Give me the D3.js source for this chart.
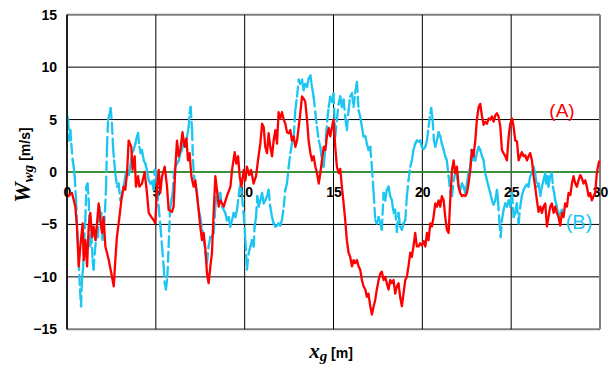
<!DOCTYPE html>
<html>
<head>
<meta charset="utf-8">
<script src="https://cdn.jsdelivr.net/npm/d3@7"></script>
<style>
  body { margin: 0; background: #fff; }
</style>
</head>
<body>
<div id="container"></div>
<script>

// Chart values
const xTicks = [0, 5, 10, 15, 20, 25, 30];
const yTicks = [-15, -10, -5, 0, 5, 10, 15];

// (A) red trace
const seriesA = [
  [0,-2.4],[0.28,-2.0],[0.47,-3.3],[0.56,-5.2],[0.66,-9.0],[0.75,-7.1],[0.88,-4.9],[0.94,-8.4],
  [1.03,-6.5],[1.13,-9.0],[1.22,-5.2],[1.31,-3.9],[1.41,-6.2],[1.5,-5.2],[1.6,-6.5],[1.69,-4.9],
  [1.78,-3.0],[1.88,-4.6],[1.97,-5.8],[2.06,-4.3],[2.16,-7.1],[2.25,-7.7],[2.35,-8.4],[2.5,-9.7],
  [2.63,-10.9],[2.72,-8.4],[2.81,-6.2],[2.95,-4.3],[3.06,-2.7],[3.19,-1.4],[3.28,-1.7],[3.38,-0.1],
  [3.47,3.0],[3.62,2.4],[3.69,0.2],[3.81,1.5],[3.88,-1.4],[4.0,-0.4],[4.07,-1.4],[4.22,-1.1],
  [4.37,0],[4.5,-2.0],[4.6,-3.9],[4.75,-4.3],[4.88,-4.6],[4.97,-4.9],
  [5.07,-1.4],[5.16,0.2],[5.25,-2.0],[5.35,-0.4],[5.5,0.5],[5.63,-1.4],[5.72,-3.6],[5.91,-3.8],
  [6.0,-3.3],[6.1,0.5],[6.19,3.0],[6.29,1.5],[6.38,2.1],[6.5,3.8],[6.62,2.4],[6.72,3.2],
  [6.81,1.1],[6.9,1.8],[7.0,-0.4],[7.13,-1.4],[7.22,-0.8],[7.32,-2.3],[7.41,-3.6],[7.5,-5.2],
  [7.6,-6.5],[7.69,-5.8],[7.79,-7.4],[7.88,-9.7],[7.97,-10.6],[8.07,-9.0],[8.16,-7.7],[8.26,-3.6],
  [8.35,-0.4],[8.44,-1.7],[8.54,-3.3],[8.63,-2.7],[8.82,-3.3],[9.0,-2.3],[9.2,-1.4],[9.29,0.2],
  [9.44,1.9],[9.53,0.8],[9.63,1.5],[9.72,-0.4],[9.82,-1.4],[9.95,0.2],
  [10.04,-0.8],[10.13,0.5],[10.26,-0.3],[10.36,0.2],[10.5,-1.1],[10.64,-0.4],[10.75,1.1],[10.88,2.7],
  [10.98,4.6],[11.07,4.3],[11.16,2.4],[11.26,1.8],[11.35,3.7],[11.44,2.4],[11.54,1.5],[11.63,3.0],
  [11.73,4.0],[11.82,2.7],[11.91,5.7],[12.0,5.1],[12.1,5.7],[12.2,5.0],[12.29,4.6],[12.38,3.8],
  [12.48,3.7],[12.57,4.0],[12.66,3.0],[12.76,3.4],[12.85,2.4],[12.95,3.0],[13.04,4.3],[13.13,5.6],
  [13.23,7.2],[13.32,7.0],[13.41,6.7],[13.51,5.0],[13.6,3.0],[13.7,1.8],[13.79,1.1],[13.88,1.5],
  [13.98,0.5],[14.07,-0.1],[14.17,-1.1],[14.26,-0.1],[14.35,1.1],[14.45,2.4],[14.54,2.1],[14.63,3.4],
  [14.73,4.2],[14.82,3.4],[14.92,4.3],[15.0,5.0],
  [15.1,2.4],[15.19,0.5],[15.29,-0.1],[15.38,0.3],[15.47,-1.4],[15.57,-3.0],[15.66,-4.6],[15.75,-6.5],
  [15.85,-7.7],[15.94,-8.1],[16.04,-9.0],[16.13,-8.4],[16.22,-8.7],[16.32,-8.4],[16.41,-9.0],[16.5,-9.3],
  [16.6,-10.3],[16.69,-10.9],[16.79,-11.2],[16.88,-11.9],[16.97,-11.6],[17.07,-12.8],[17.16,-13.6],[17.26,-12.8],
  [17.35,-12.2],[17.44,-11.2],[17.54,-10.3],[17.63,-9.7],[17.72,-9.5],[17.82,-10.3],[17.91,-10.0],[18.0,-10.6],
  [18.1,-11.2],[18.19,-10.3],[18.29,-10.6],[18.38,-10.3],[18.47,-11.6],[18.57,-10.9],[18.66,-10.6],[18.75,-11.9],
  [18.85,-12.8],[18.94,-11.6],[19.04,-10.3],[19.13,-10.0],[19.22,-9.0],[19.32,-7.7],[19.41,-8.1],[19.5,-7.1],
  [19.6,-5.8],[19.69,-7.1],[19.79,-7.1],[19.88,-6.8],[19.97,-7.0],
  [20.08,-6.6],[20.17,-7.1],[20.26,-5.8],[20.35,-6.5],[20.45,-4.9],[20.54,-5.2],[20.63,-4.3],[20.73,-3.0],
  [20.82,-3.3],[20.92,-2.7],[21.01,-3.3],[21.1,-2.3],[21.2,-2.7],[21.29,-4.3],[21.38,-5.5],[21.48,-5.8],
  [21.57,-2.7],[21.67,0.2],[21.76,1.1],[21.85,-0.1],[21.95,0.5],[22.04,-1.4],[22.13,-2.0],[22.23,-2.3],
  [22.32,-2.2],[22.42,-2.3],[22.51,-2.0],[22.6,-1.1],[22.7,0.2],[22.79,2.1],[22.88,1.5],[22.98,3.0],
  [23.07,5.0],[23.17,6.2],[23.26,6.5],[23.36,5.3],[23.45,4.5],[23.54,4.8],[23.64,4.6],[23.73,5.1],
  [23.82,5.0],[23.92,5.3],[24.01,4.8],[24.11,5.4],[24.2,5.6],[24.29,5.3],[24.39,4.3],[24.48,2.1],
  [24.57,1.8],[24.67,1.5],[24.76,1.1],[24.86,3.4],[24.95,4.6],[25.05,5.1],[25.14,4.3],[25.23,3.0],
  [25.33,2.9],[25.42,1.1],[25.51,1.5],[25.6,1.9],[25.7,1.5],[25.79,1.6],[25.89,1.1],[25.98,1.5],
  [26.07,1.8],[26.17,1.1],[26.26,-0.4],[26.35,-1.4],[26.45,-2.7],[26.54,-3.8],[26.64,-3.3],[26.73,-3.9],
  [26.82,-3.3],[26.92,-3.0],[27.01,-5.2],[27.1,-4.3],[27.2,-3.3],[27.29,-3.0],[27.39,-3.9],[27.48,-3.3],
  [27.57,-3.9],[27.67,-4.3],[27.76,-5.1],[27.86,-3.9],[27.95,-4.3],[28.04,-3.0],[28.14,-3.3],[28.23,-2.0],
  [28.33,-2.2],[28.42,-1.1],[28.51,-0.4],[28.61,-1.1],[28.7,-1.4],[28.79,-0.8],[28.89,-0.3],[28.98,-0.6],
  [29.08,-1.1],[29.17,-0.8],[29.26,-1.4],[29.36,-2.3],[29.45,-2.0],[29.54,-2.7],[29.64,-2.3],[29.73,-2.0],
  [29.82,-0.1],[29.92,0.8],[29.97,1.1]
];

// (B) cyan trace
const seriesB = [
  [0,5.4],[0.06,5.0],[0.13,3.0],[0.19,4.0],[0.24,2.7],[0.32,1.1],[0.38,0.5],[0.43,-0.4],
  [0.51,-2.7],[0.58,-5.8],[0.66,-8.4],[0.73,-11.2],[0.79,-12.8],[0.84,-10.3],[0.9,-9.3],[0.96,-6.8],
  [1.03,-4.6],[1.09,-1.4],[1.16,-1.1],[1.22,-2.7],[1.26,-4.6],[1.31,-7.1],[1.37,-5.8],[1.44,-8.4],
  [1.5,-9.3],[1.56,-7.7],[1.63,-6.5],[1.69,-5.2],[1.74,-6.2],[1.82,-3.3],[1.88,-4.3],[1.93,-3.9],
  [2.0,-6.5],[2.08,-5.2],[2.14,-3.6],[2.2,-1.4],[2.25,2.4],[2.31,5.0],[2.38,5.4],[2.46,6.1],
  [2.53,4.6],[2.59,2.4],[2.65,1.1],[2.72,-0.1],[2.81,-1.4],[2.91,-1.1],[3.0,-2.7],[3.1,-2.0],
  [3.19,-1.4],[3.28,-0.4],[3.38,0.2],[3.47,-0.3],[3.56,0.5],[3.66,1.8],[3.75,2.1],[3.85,2.7],
  [3.94,3.4],[4.0,3.7],[4.07,2.4],[4.15,1.8],[4.22,2.1],[4.32,1.1],[4.41,0.8],[4.5,0.2],
  [4.6,-0.8],[4.69,-1.1],[4.78,-0.9],[4.88,-1.7],[4.94,0.2],[5.0,-0.1],
  [5.07,-1.7],[5.16,-3.3],[5.26,-5.2],[5.35,-7.1],[5.44,-9.0],[5.5,-10.6],[5.57,-11.2],[5.65,-10.0],
  [5.72,-7.1],[5.8,-3.6],[5.87,-2.7],[5.95,-2.0],[6.02,-0.1],[6.1,0.5],[6.19,0.8],[6.29,1.1],
  [6.38,1.8],[6.47,2.1],[6.57,3.0],[6.66,2.4],[6.76,3.4],[6.85,4.3],[6.9,5.6],[6.96,6.2],
  [7.04,4.0],[7.09,1.1],[7.15,-0.4],[7.22,-1.1],[7.32,-2.0],[7.41,-3.6],[7.5,-4.3],[7.6,-5.5],
  [7.69,-6.2],[7.79,-7.7],[7.88,-8.7],[7.97,-7.1],[8.07,-6.2],[8.16,-6.2],[8.26,-5.8],[8.35,-3.3],
  [8.44,-1.7],[8.54,-2.7],[8.63,-2.0],[8.72,-3.3],[8.82,-3.6],[8.91,-3.9],[9.0,-4.6],[9.1,-4.3],
  [9.19,-5.2],[9.29,-4.6],[9.38,-3.9],[9.48,-4.3],[9.57,-3.6],[9.66,-2.3],[9.76,-1.1],[9.85,-2.3],
  [9.94,-3.9],[10.04,-6.5],[10.13,-9.3],[10.23,-7.7],[10.32,-7.1],[10.41,-6.5],[10.51,-7.1],[10.56,-5.2],
  [10.64,-4.3],[10.71,-2.3],[10.79,-3.3],[10.88,-2.7],[10.98,-2.0],[11.07,-3.0],[11.16,-2.7],[11.26,-2.3],
  [11.35,-1.7],[11.44,-3.3],[11.54,-4.3],[11.63,-4.9],[11.73,-5.2],[11.82,-5.1],[11.91,-4.9],[12.0,-5.1],
  [12.1,-4.6],[12.2,-3.3],[12.29,-1.7],[12.38,-1.1],[12.48,0.5],[12.57,1.8],[12.66,2.7],[12.76,3.4],
  [12.85,5.9],[12.95,7.2],[13.04,8.8],[13.13,8.4],[13.23,8.8],[13.32,7.8],[13.41,8.4],[13.51,8.1],
  [13.6,8.9],[13.7,9.2],[13.79,8.1],[13.88,7.2],[13.98,5.6],[14.07,4.3],[14.17,3.0],[14.26,2.4],
  [14.35,1.1],[14.44,0.5],[14.5,1.5],[14.58,3.4],[14.65,5.0],[14.73,6.2],[14.82,7.2],[14.92,6.7],
  [15.0,7.5],[15.1,3.4],[15.19,5.0],[15.29,6.5],[15.38,7.2],[15.47,6.2],[15.57,6.9],[15.66,5.3],
  [15.75,4.0],[15.85,5.9],[15.94,7.2],[16.04,7.5],[16.13,6.2],[16.22,7.5],[16.32,8.6],[16.41,5.9],
  [16.5,5.3],[16.6,4.3],[16.69,3.4],[16.79,3.4],[16.88,2.7],[16.97,2.1],[17.07,2.4],[17.16,0.5],
  [17.26,-2.0],[17.35,-4.6],[17.44,-4.9],[17.54,-4.3],[17.63,-4.9],[17.72,-5.5],[17.82,-2.0],[17.91,-2.7],
  [18.0,-1.7],[18.1,-1.4],[18.19,-2.3],[18.29,-2.7],[18.38,-3.9],[18.47,-3.6],[18.57,-5.7],[18.66,-3.9],
  [18.75,-5.2],[18.85,-5.5],[18.94,-4.9],[19.04,-4.6],[19.13,-2.3],[19.22,-0.8],[19.32,0.5],[19.41,1.1],
  [19.5,2.1],[19.6,2.7],[19.69,3.0],[19.79,2.9],[19.88,3.0],[19.97,2.4],[20.07,2.2],[20.17,2.4],
  [20.26,3.0],[20.35,4.3],[20.45,5.6],[20.5,6.1],[20.58,5.0],[20.65,3.0],[20.73,2.4],[20.82,3.0],
  [20.92,3.8],[21.01,3.4],[21.1,2.7],[21.2,2.1],[21.29,1.5],[21.38,1.1],[21.48,-0.4],[21.57,-2.0],
  [21.67,-2.3],[21.76,-0.8],[21.85,-0.1],[21.95,-0.4],[22.04,-1.4],[22.13,-1.7],[22.23,-1.1],[22.32,-1.4],
  [22.42,-2.0],[22.51,-1.1],[22.6,-0.1],[22.7,0.5],[22.76,2.1],[22.83,1.1],[22.89,1.8],[22.98,1.1],
  [23.07,1.8],[23.17,2.4],[23.26,2.1],[23.36,1.5],[23.45,1.1],[23.54,-0.1],[23.64,-0.8],[23.73,-1.4],
  [23.82,-2.0],[23.92,-2.7],[24.01,-3.1],[24.11,-2.7],[24.2,-1.7],[24.26,-2.7],[24.33,-4.6],[24.41,-6.2],
  [24.48,-4.6],[24.57,-3.6],[24.67,-3.0],[24.76,-3.3],[24.86,-2.7],[24.95,-3.3],[25.05,-2.0],[25.14,-4.3],
  [25.23,-3.9],[25.32,-3.0],[25.42,-4.9],[25.51,-3.3],[25.6,-2.3],[25.7,-1.7],[25.79,-1.4],[25.89,-1.2],
  [25.98,-1.4],[26.07,-0.4],[26.17,-0.1],[26.26,0.5],[26.35,-0.1],[26.45,-1.4],[26.54,-1.1],[26.64,-2.3],
  [26.73,-1.4],[26.82,-0.8],[26.92,-0.1],[26.97,-1.1],[27.05,-0.4],[27.1,-1.4],[27.2,-0.4],[27.29,-0.1],
  [27.35,-1.4],[27.42,-2.0],[27.48,-2.7],[27.57,-3.3],[27.67,-4.3],[27.76,-3.9],[27.86,-3.6],[27.95,-3.9]
];

const labelA = "(A)";
const labelB = "(B)";

const width = 608;
const height = 369;

const x = d3.scaleLinear().domain([0, 30]).range([67, 600]);
const y = d3.scaleLinear().domain([-15, 15]).range([329.3, 14.7]);

const svg = d3.create("svg")
  .attr("width", width)
  .attr("height", height)
  .style("font-family", "'Liberation Sans', Arial, sans-serif");

svg.append("rect")
  .attr("width", width)
  .attr("height", height)
  .attr("fill", "#fff");

// grid
svg.append("g")
  .selectAll("line")
  .data(yTicks)
  .join("line")
  .attr("x1", x(0))
  .attr("x2", x(30))
  .attr("y1", d => y(d))
  .attr("y2", d => y(d))
  .attr("stroke", d => (d === 15 || d === -15) ? "#808080" : "#000")
  .attr("stroke-width", d => (d === 15 || d === -15) ? 2 : 1);

svg.append("g")
  .selectAll("line")
  .data(xTicks)
  .join("line")
  .attr("x1", d => x(d))
  .attr("x2", d => x(d))
  .attr("y1", y(15))
  .attr("y2", y(-15))
  .attr("stroke", d => d === 30 ? "#808080" : "#000")
  .attr("stroke-width", d => d === 30 ? 2 : 1);

// zero line
svg.append("line")
  .attr("x1", x(0))
  .attr("x2", x(30))
  .attr("y1", y(0))
  .attr("y2", y(0))
  .attr("stroke", "#229922")
  .attr("stroke-width", 1.6);

// y axis labels
const yAxis = svg.append("g")
  .attr("transform", `translate(${x(0)},0)`)
  .call(d3.axisLeft(y).tickValues(yTicks).tickSize(0).tickPadding(10));
yAxis.select(".domain").remove();
yAxis.selectAll("text")
  .attr("font-size", 14)
  .attr("font-weight", "bold")
  .attr("font-family", "'Liberation Sans', Arial, sans-serif")
  .attr("fill", "#000");

// x tick labels sit just under the zero line
const xAxis = svg.append("g")
  .attr("transform", `translate(0,${y(0)})`)
  .call(d3.axisBottom(x).tickValues(xTicks).tickSize(0).tickPadding(15));
xAxis.select(".domain").remove();
xAxis.selectAll("text")
  .attr("font-size", 14)
  .attr("font-weight", "bold")
  .attr("font-family", "'Liberation Sans', Arial, sans-serif")
  .attr("fill", "#000");

// series B (cyan); dash restarts on every segment, so only the long steep ones break up
svg.append("g")
  .selectAll("line")
  .data(d3.pairs(seriesB))
  .join("line")
  .attr("x1", d => x(d[0][0]))
  .attr("y1", d => y(d[0][1]))
  .attr("x2", d => x(d[1][0]))
  .attr("y2", d => y(d[1][1]))
  .attr("stroke", "#1cc6f2")
  .attr("stroke-width", 2.3)
  .attr("stroke-linecap", "round")
  .attr("stroke-dasharray", "10,5");

// series A (red)
const line = d3.line().x(d => x(d[0])).y(d => y(d[1]));
svg.append("path")
  .datum(seriesA)
  .attr("d", line)
  .attr("fill", "none")
  .attr("stroke", "#ff0000")
  .attr("stroke-width", 2.3)
  .attr("stroke-linejoin", "round");

// left axis line
svg.append("line")
  .attr("x1", x(0)).attr("x2", x(0))
  .attr("y1", y(15)).attr("y2", y(-15))
  .attr("stroke", "#000")
  .attr("stroke-width", 1.5);

// series labels
svg.append("text")
  .attr("x", 562)
  .attr("y", 117)
  .attr("text-anchor", "middle")
  .attr("font-size", 19)
  .attr("fill", "#ff0000")
  .text(labelA);

svg.append("text")
  .attr("x", 579)
  .attr("y", 229)
  .attr("text-anchor", "middle")
  .attr("font-size", 20)
  .attr("fill", "#1cc6f2")
  .text(labelB);

// axis titles
const xTitle = svg.append("text")
  .attr("x", 331)
  .attr("y", 358)
  .attr("text-anchor", "middle")
  .attr("font-weight", "bold");
xTitle.append("tspan")
  .attr("font-family", "'Liberation Serif', 'Times New Roman', serif")
  .attr("font-style", "italic")
  .attr("font-size", 21)
  .text("x");
xTitle.append("tspan")
  .attr("font-family", "'Liberation Serif', 'Times New Roman', serif")
  .attr("font-style", "italic")
  .attr("font-size", 15)
  .attr("dy", 3)
  .text("g");
xTitle.append("tspan")
  .attr("font-size", 14)
  .attr("dy", -3)
  .text(" [m]");

const yTitle = svg.append("text")
  .attr("transform", "translate(30,165) rotate(-90)")
  .attr("text-anchor", "middle")
  .attr("font-weight", "bold");
yTitle.append("tspan")
  .attr("font-family", "'Liberation Serif', 'Times New Roman', serif")
  .attr("font-style", "italic")
  .attr("font-size", 23)
  .text("W");
yTitle.append("tspan")
  .attr("font-family", "'Liberation Serif', 'Times New Roman', serif")
  .attr("font-style", "italic")
  .attr("font-size", 15)
  .attr("dy", 3)
  .text("wg");
yTitle.append("tspan")
  .attr("font-size", 14)
  .attr("dy", -3)
  .text(" [m/s]");

container.append(svg.node());

</script>
</body>
</html>
